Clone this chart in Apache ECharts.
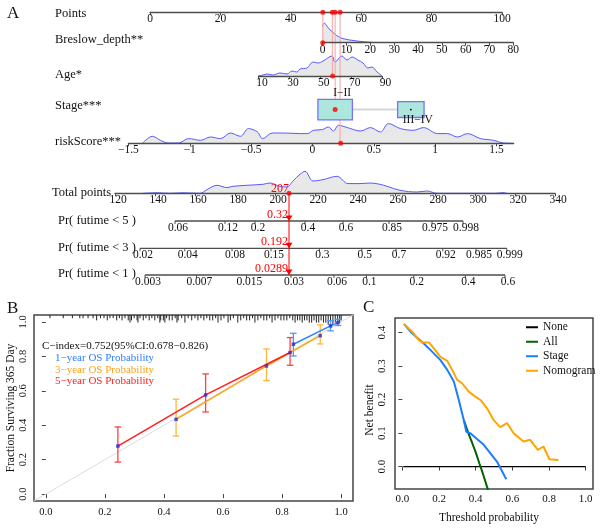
<!DOCTYPE html>
<html><head><meta charset="utf-8">
<script src="https://cdn.jsdelivr.net/npm/echarts@6/dist/echarts.min.js"></script>
<style>html,body{margin:0;padding:0;background:#fff}#c{width:600px;height:530px}</style>
</head><body><div id="c"></div>
<script>
// ================= DATA =================
// Nomogram tick labels
const pointsTicks = [0, 20, 40, 60, 80, 100];
const breslowTicks = [0, 10, 20, 30, 40, 50, 60, 70, 80];
const ageTicks = [10, 30, 50, 70, 90];
const riskTicks = [-1.5, -1, -0.5, 0, 0.5, 1, 1.5];
const totalTicks = [120, 140, 160, 180, 200, 220, 240, 260, 280, 300, 320, 340];

// Stage categories (position on Points scale, relative frequency)
const stageCats = ['I\u2212II', 'III\u2212IV'];
const stagePoints = [52.6, 74.1];
const stageFreq = [0.63, 0.37];

// Density curves [value, density]
const breslowDensity = [[-2.6,0],[-1.5,8.7],[-0.5,15],[0,18],[0.8,19.5],[1.5,17.5],[2.2,15.3],[3.2,12.5],[4.3,10.3],[5.7,7.5],[7.2,5.3],[9,3.8],[11.4,2.7],[13.5,2],[15.6,1.3],[18,0.8],[21,0.3],[22,0]];
const ageDensity = [[9.7,0],[12.9,1],[15.5,2],[19.4,1],[23.9,3],[28.5,2],[31.7,5],[34.9,4],[36.9,7],[41.4,8],[45.3,14],[48.5,13],[51.8,15],[57.6,20],[59.5,14],[64.1,20],[67.3,16],[70.6,19],[74.4,16],[77.7,13],[80.9,8],[83.5,9],[86.8,4],[90,0]];
const riskDensity = [[-1.385,0],[-1.304,7],[-1.239,3],[-1.174,0.3],[-1.092,0.3],[-1.01,4.7],[-0.913,3],[-0.831,6.3],[-0.75,4.7],[-0.668,10.3],[-0.587,7],[-0.522,14.7],[-0.448,11.3],[-0.407,4.7],[-0.326,10.3],[-0.236,10.3],[-0.098,9.7],[-0.041,9.7],[0.008,13],[0.081,13.7],[0.13,16.3],[0.171,12.3],[0.212,18],[0.285,15.7],[0.391,12.3],[0.473,15.7],[0.554,11.3],[0.619,19.7],[0.717,14.7],[0.823,13],[0.905,15.7],[1.019,9.7],[1.1,9.7],[1.182,6.3],[1.263,9.7],[1.369,4.7],[1.475,3],[1.557,0.3],[1.63,0]];
const totalDensity = [[134,0],[141,0.5],[147.5,0],[154,0.5],[162.5,0],[166,3.7],[171,8],[176,5.7],[179,7],[186,8],[194,9],[197.5,10.3],[202.5,7],[206,6.3],[209,12.3],[212.5,19],[215,22],[219,12.3],[224,13.7],[231,17],[236.5,9.7],[242.5,9.7],[247.5,10.3],[252.5,9],[256,7],[262.5,3],[271,1.3],[276,2.3],[281,0],[287.5,0],[310,0],[314,0.6],[316,0]];

// Patient being scored
const patientBreslow = 0;
const patientAge = 58;
const patientStage = 0;
const patientRisk = 0.23;
const patientPoints = [49.1, 51.8, 52.6, 54.0]; // Breslow, Age, Stage, riskScore
const patientTotal = 207;
const patientPredLabels = ['0.32', '0.192', '0.0289'];

// Probability axes: tick labels and the total points they sit at
const pr5Labels = ['0.06','0.12','0.2','0.4','0.6','0.85','0.975','0.998'];
const pr5Pos = [150, 175, 190, 215, 234, 257, 278.5, 294];
const pr3Labels = ['0.02','0.04','0.08','0.15','0.3','0.5','0.7','0.92','0.985','0.999'];
const pr3Pos = [132.5, 154.9, 178.5, 198, 222.2, 243.4, 260.5, 283.9, 300.5, 315.9];
const pr1Labels = ['0.003','0.007','0.015','0.03','0.06','0.1','0.2','0.4','0.6'];
const pr1Pos = [135, 160.7, 185.7, 208, 229.5, 245.7, 269.4, 295.2, 315];

// Calibration (panel B)
const calTicks = [0, 0.2, 0.4, 0.6, 0.8, 1.0];
const calRef = [[-0.04,-0.04],[1.04,1.04]];
const cal1x = [0.838, 0.964, 0.989], cal1y = [0.870, 0.977, 0.996], cal1lo = [0.802, 0.948, 0.979], cal1hi = [0.934, 1.007, 1.015];
const cal3x = [0.441, 0.747, 0.929], cal3y = [0.434, 0.744, 0.920], cal3lo = [0.337, 0.659, 0.872], cal3hi = [0.551, 0.843, 0.983];
const cal5x = [0.244, 0.541, 0.827], cal5y = [0.279, 0.576, 0.822], cal5lo = [0.186, 0.477, 0.748], cal5hi = [0.390, 0.698, 0.909];
const rugX = [0.014,0.059,0.09,0.115,0.126,0.143,0.16,0.172,0.185,0.197,0.208,0.217,0.228,0.24,0.249,0.258,0.268,0.279,0.285,0.29,0.299,0.309,0.312,0.319,0.33,0.339,0.35,0.359,0.369,0.379,0.386,0.389,0.398,0.403,0.409,0.418,0.428,0.438,0.444,0.448,0.46,0.471,0.482,0.494,0.505,0.515,0.525,0.535,0.545,0.555,0.565,0.575,0.583,0.593,0.603,0.617,0.625,0.635,0.65,0.66,0.67,0.68,0.69,0.7,0.708,0.718,0.728,0.738,0.748,0.758,0.766,0.776,0.786,0.796,0.806,0.816,0.826,0.836,0.844,0.852,0.86,0.868,0.876,0.884,0.892,0.9,0.908,0.916,0.924,0.932,0.94,0.948,0.956,0.964,0.972,0.98,0.988,0.995,1.0];
const rugN = [1,1,1,1,1,1,1,2,1,1,2,1,1,2,1,2,1,2,3,2,1,2,3,1,2,1,2,1,2,1,3,2,2,3,1,2,2,1,3,2,1,3,1,2,1,2,1,2,1,2,2,1,3,2,1,3,2,1,3,2,1,2,2,1,3,2,1,2,2,1,3,2,1,2,2,2,1,2,3,2,2,3,2,2,3,3,2,3,3,2,3,3,4,3,4,3,4,3,2];

// Decision curves (panel C)
const dcaXTicks = [0, 0.2, 0.4, 0.6, 0.8, 1.0];
const dcaYTicks = [0, 0.1, 0.2, 0.3, 0.4];
const dcaNone = [[0.005,0],[1.0,0]];
const dcaAll = [[0.335,0.14],[0.36,0.10],[0.38,0.072],[0.40,0.043],[0.42,0.01],[0.44,-0.022],[0.46,-0.057],[0.475,-0.083]];
const dcaStage = [[0.009,0.426],[0.045,0.403],[0.081,0.385],[0.117,0.368],[0.154,0.348],[0.208,0.318],[0.245,0.289],[0.281,0.254],[0.308,0.199],[0.335,0.139],[0.349,0.104],[0.371,0.0996],[0.444,0.065],[0.516,0.015],[0.567,-0.038]];
const dcaNomogram = [[0.009,0.426],[0.054,0.403],[0.09,0.378],[0.109,0.371],[0.145,0.371],[0.172,0.353],[0.208,0.328],[0.245,0.316],[0.272,0.289],[0.299,0.259],[0.326,0.249],[0.362,0.224],[0.398,0.209],[0.426,0.199],[0.462,0.174],[0.498,0.139],[0.534,0.118],[0.571,0.130],[0.607,0.0996],[0.661,0.075],[0.697,0.080],[0.739,0.050],[0.770,0.060],[0.802,0.022],[0.851,0.020]];

// ================= LAYOUT / STYLE =================
const FONT = 'Liberation Serif';
const AX = '#4d4d4d';
const TXT = '#111';
const ROW = {points:12.3, breslow:42.7, age:76, stage:109.6, risk:143.3, total:193.3, pr5:221, pr3:248.3, pr1:275};
const DH = 26;

const grids = [], xAxis = [], yAxis = [], series = [], graphic = [];
function addGrid(g, xa, ya) {
  grids.push(Object.assign({outerBoundsMode:'none', containLabel:false}, g));
  const i = grids.length - 1;
  xAxis.push(Object.assign({gridIndex:i, type:'value', splitLine:{show:false}}, xa));
  yAxis.push(Object.assign({gridIndex:i, type:'value', splitLine:{show:false}}, ya));
  return i;
}
function nomoX(min, max, ticks, shift) {
  return {min, max, position:'bottom', z:5,
    axisLine:{show:true, onZero:false, lineStyle:{color:AX, width:1.3}},
    axisTick:{show:true, length:3, lineStyle:{color:AX, width:1}, customValues:ticks},
    axisLabel:{show:true, customValues:ticks, margin:1, fontFamily:FONT, fontSize:11.5, color:TXT, hideOverlap:false,
      padding:[0,0,0,shift*2], formatter:v => String(v).replace('-', '\u2212')}};
}
const hid = (min, max, extra) => Object.assign({min, max, show:false}, extra || {});

// ---------- Panel A grids ----------
const gPts  = addGrid({left:150, width:352, top:ROW.points-10, height:10}, nomoX(0,100,pointsTicks,0), hid(0,10));
const gBres = addGrid({left:322.7, width:190.6, top:ROW.breslow-DH, height:DH}, nomoX(0,80,breslowTicks,0), hid(0,DH));
const gAge  = addGrid({left:258.5, width:123.5, top:ROW.age-DH, height:DH}, nomoX(10,90,ageTicks,3.5), hid(0,DH));
const gRisk = addGrid({left:128.4, width:385.3, top:ROW.risk-DH, height:DH}, nomoX(-1.5,1.64,riskTicks,0), hid(0,DH));
const gTot  = addGrid({left:115, width:440, top:ROW.total-DH, height:DH}, nomoX(120,340,totalTicks,3), hid(0,DH));
const gA    = addGrid({left:150, width:352, top:0, height:530}, hid(0,100), hid(0,530,{inverse:true}));
const gT    = addGrid({left:115, width:440, top:0, height:530}, hid(120,340), hid(0,530,{inverse:true}));

function dens(g, data) {
  series.push({type:'line', xAxisIndex:g, yAxisIndex:g, data, smooth:0.35, showSymbol:false, clip:false, silent:true,
    lineStyle:{color:'#5a5aff', width:1}, areaStyle:{color:'#e8e8e8', opacity:1}, z:1});
}
function dots(g, data, size, color) {
  series.push({type:'scatter', xAxisIndex:g, yAxisIndex:g, data, symbolSize:size, itemStyle:{color}, clip:false, silent:true, z:10});
}
dens(gBres, breslowDensity);
dens(gAge, ageDensity);
dens(gRisk, riskDensity);
dens(gTot, totalDensity);

// pink guide lines from Points axis to each variable
const varRows = [ROW.breslow, ROW.age, ROW.stage, ROW.risk];
series.push({type:'custom', xAxisIndex:gA, yAxisIndex:gA, silent:true, z:2,
  data: patientPoints.map((p, i) => [p, ROW.points, varRows[i]]),
  renderItem: (pr, api) => {
    const a = api.coord([api.value(0), api.value(1)]), b = api.coord([api.value(0), api.value(2)]);
    return {type:'line', shape:{x1:a[0], y1:a[1], x2:b[0], y2:b[1]}, style:{stroke:'#f6a3a3', lineWidth:1}};
  }});

// Stage boxes
series.push({type:'line', xAxisIndex:gA, yAxisIndex:gA, data: stagePoints.map(p => [p, ROW.stage]),
  showSymbol:false, silent:true, lineStyle:{color:'#d6d6d6', width:2}, z:3});
series.push({type:'custom', xAxisIndex:gA, yAxisIndex:gA, silent:true, z:4,
  data: stagePoints.map((p, i) => [p, ROW.stage, stageFreq[i], i]),
  renderItem: (pr, api) => {
    const c = api.coord([api.value(0), api.value(1)]);
    const f = api.value(2), i = api.value(3);
    const w = Math.sqrt(f) * 43.5, h = Math.sqrt(f) * 26;
    const ly = i === 0 ? c[1] - h / 2 - 6 : c[1] + h / 2 + 2;
    return {type:'group', children:[
      {type:'rect', shape:{x:c[0]-w/2, y:c[1]-h/2, width:w, height:h}, style:{fill:'#ade6dc', stroke:'#7373ff', lineWidth:1.3}},
      {type:'circle', shape:{cx:c[0], cy:c[1], r:i===0?0:0.9}, style:{fill:'#000'}},
      {type:'text', style:{text:stageCats[i], x:c[0]+7, y:ly, align:'center', verticalAlign:'middle', fontFamily:FONT, fontSize:11.5, fill:TXT}}
    ]};
  }});

// red patient dots
dots(gPts, patientPoints.map(p => [p, 0]), 5, '#ff0000');
dots(gBres, [[patientBreslow, 0]], 5, '#ff0000');
dots(gAge, [[patientAge, 0]], 5, '#ff0000');
dots(gRisk, [[patientRisk, 0]], 5, '#ff0000');
dots(gA, [[stagePoints[patientStage], ROW.stage]], 5, '#ff0000');
dots(gTot, [[patientTotal, 0]], 5, '#ff0000');

// probability axes
function prAxis(labels, pos, rowY) {
  series.push({type:'line', xAxisIndex:gT, yAxisIndex:gT, data:[[pos[0], rowY], [pos[pos.length-1], rowY]],
    showSymbol:false, silent:true, lineStyle:{color:AX, width:1.3}, z:3});
  series.push({type:'custom', xAxisIndex:gT, yAxisIndex:gT, silent:true, z:3,
    data: pos.map((p, i) => [p, rowY, i]),
    renderItem: (pr, api) => {
      const c = api.coord([api.value(0), api.value(1)]);
      return {type:'group', children:[
        {type:'line', shape:{x1:c[0], y1:c[1], x2:c[0], y2:c[1]+3}, style:{stroke:AX, lineWidth:1}},
        {type:'text', style:{text:labels[api.value(2)], x:c[0]+3, y:c[1]+1, align:'center', verticalAlign:'top', fontFamily:FONT, fontSize:11.5, fill:TXT}}
      ]};
    }});
}
prAxis(pr5Labels, pr5Pos, ROW.pr5);
prAxis(pr3Labels, pr3Pos, ROW.pr3);
prAxis(pr1Labels, pr1Pos, ROW.pr1);

// red prediction line
const prRows = [ROW.pr5, ROW.pr3, ROW.pr1];
series.push({type:'custom', xAxisIndex:gT, yAxisIndex:gT, silent:true, z:8,
  data: [[patientTotal, ROW.total]],
  renderItem: (pr, api) => {
    const c = api.coord([api.value(0), api.value(1)]);
    const x = c[0];
    const ch = [
      {type:'line', shape:{x1:x, y1:c[1], x2:x, y2:prRows[2]}, style:{stroke:'#ff0000', lineWidth:1}},
      {type:'text', style:{text:String(patientTotal), x:x, y:c[1]-4, align:'right', verticalAlign:'middle', fontFamily:FONT, fontSize:12, fill:'#ff0000'}}
    ];
    prRows.forEach((r, k) => {
      ch.push({type:'polygon', shape:{points:[[x-3.5, r-5.5], [x+3.5, r-5.5], [x, r]]}, style:{fill:'#ff0000'}});
      ch.push({type:'text', style:{text:patientPredLabels[k], x:x-1, y:r-6.5, align:'right', verticalAlign:'middle', fontFamily:FONT, fontSize:12, fill:'#ff0000'}});
    });
    return {type:'group', children:ch};
  }});

// ---------- Panel B ----------
const frameB = {show:true, borderColor:'#454545', borderWidth:1.5, backgroundColor:'rgba(0,0,0,0)'};
const gB = addGrid(Object.assign({left:34, top:315, width:319, height:186}, frameB),
  {min:-0.04, max:1.04, axisLine:{show:false},
   axisTick:{show:true, length:4, customValues:calTicks, lineStyle:{color:'#454545'}},
   axisLabel:{customValues:calTicks, formatter:v => v.toFixed(1), margin:6, fontFamily:FONT, fontSize:10.5, color:TXT, hideOverlap:false}},
  {min:-0.04, max:1.04, axisLine:{show:false},
   axisTick:{show:true, length:4, customValues:calTicks, lineStyle:{color:'#454545'}},
   axisLabel:{customValues:calTicks, formatter:v => v.toFixed(1), rotate:90, margin:5, fontFamily:FONT, fontSize:10.5, color:TXT, hideOverlap:false}});

series.push({type:'line', xAxisIndex:gB, yAxisIndex:gB, data:calRef, showSymbol:false, silent:true, lineStyle:{color:'#dcdcdc', width:1}, z:1});
series.push({type:'custom', xAxisIndex:gB, yAxisIndex:gB, silent:true, z:2,
  data: rugX.map((x, i) => [x, rugN[i]]),
  renderItem: (pr, api) => {
    const c = api.coord([api.value(0), 1.04]);
    return {type:'line', shape:{x1:c[0], y1:c[1], x2:c[0], y2:c[1] + 1 + api.value(1) * 2.2}, style:{stroke:'#222', lineWidth:1}};
  }});
function calSeries(xs, ys, lo, hi, lineColor, barColor) {
  series.push({type:'line', xAxisIndex:gB, yAxisIndex:gB, data: xs.map((x, i) => [x, ys[i]]), showSymbol:false, silent:true,
    lineStyle:{color:lineColor, width:1.5}, z:4});
  series.push({type:'custom', xAxisIndex:gB, yAxisIndex:gB, silent:true, z:3,
    data: xs.map((x, i) => [x, lo[i], hi[i]]),
    renderItem: (pr, api) => {
      const a = api.coord([api.value(0), api.value(1)]), b = api.coord([api.value(0), api.value(2)]);
      const w = 3.3, st = {stroke:barColor, lineWidth:1.3};
      return {type:'group', children:[
        {type:'line', shape:{x1:a[0], y1:a[1], x2:b[0], y2:b[1]}, style:st},
        {type:'line', shape:{x1:a[0]-w, y1:a[1], x2:a[0]+w, y2:a[1]}, style:st},
        {type:'line', shape:{x1:b[0]-w, y1:b[1], x2:b[0]+w, y2:b[1]}, style:st}
      ]};
    }});
  series.push({type:'scatter', xAxisIndex:gB, yAxisIndex:gB, data: xs.map((x, i) => [x, ys[i]]), symbol:'rect', symbolSize:3.5,
    itemStyle:{color:'#2b2bd6'}, silent:true, z:6});
}
calSeries(cal3x, cal3y, cal3lo, cal3hi, '#ffa31a', '#ffb640');
calSeries(cal5x, cal5y, cal5lo, cal5hi, '#ff1f1f', '#ff4040');
calSeries(cal1x, cal1y, cal1lo, cal1hi, '#2f86ff', '#4d99ff');

// ---------- Panel C ----------
const gC = addGrid(Object.assign({left:395, top:318, width:198, height:171}, frameB),
  {min:-0.04, max:1.04, axisLine:{show:false},
   axisTick:{show:true, length:4, customValues:dcaXTicks, lineStyle:{color:'#454545'}},
   axisLabel:{customValues:dcaXTicks, formatter:v => v.toFixed(1), margin:5, fontFamily:FONT, fontSize:11, color:TXT, hideOverlap:false}},
  {min:-0.067, max:0.444, axisLine:{show:false},
   axisTick:{show:true, length:4, customValues:dcaYTicks, lineStyle:{color:'#454545'}},
   axisLabel:{customValues:dcaYTicks, formatter:v => v.toFixed(1), rotate:90, margin:7, fontFamily:FONT, fontSize:11, color:TXT, hideOverlap:false}});
function dca(name, data, color, width) {
  series.push({name, type:'line', xAxisIndex:gC, yAxisIndex:gC, data, showSymbol:false, silent:true, lineStyle:{color, width}, itemStyle:{color}, z:4});
}
dca('None', dcaNone, '#000000', 1.2);
dca('All', dcaAll, '#006400', 2);
dca('Stage', dcaStage, '#1e7cff', 2);
dca('Nomogram', dcaNomogram, '#ffa500', 2);

// ---------- Texts ----------
function txt(text, x, y, o) {
  graphic.push({type:'text', x, y, rotation:(o && o.rot) || 0, silent:true,
    style:Object.assign({text, fontFamily:FONT, fontSize:12.5, fill:TXT, align:'left', verticalAlign:'middle'}, o || {})});
}
txt('A', 7, 13.5, {fontSize:17});
txt('B', 7, 308.5, {fontSize:17});
txt('C', 363, 308, {fontSize:17});
txt('Points', 55, 14);
txt('Breslow_depth**', 55, 39.5);
txt('Age*', 55, 74.5);
txt('Stage***', 55, 106);
txt('riskScore***', 55, 142);
txt('Total points', 52, 193);
txt('Pr( futime < 5 )', 58, 221);
txt('Pr( futime < 3 )', 58, 247.5);
txt('Pr( futime < 1 )', 58, 274);
txt('C\u2212index=0.752(95%CI:0.678\u22120.826)', 42, 346, {fontSize:11});
txt('1\u2212year OS Probability', 55, 358.5, {fontSize:11, fill:'#2f7dff'});
txt('3\u2212year OS Probability', 55, 370, {fontSize:11, fill:'#ffa31a'});
txt('5\u2212year OS Probability', 55, 381.5, {fontSize:11, fill:'#ff2020'});
txt('Fraction Surviving 365 Day', 11, 408, {fontSize:11.5, align:'center', rot:Math.PI/2});
txt('Net benefit', 370, 410, {fontSize:11.5, align:'center', rot:Math.PI/2});
txt('Threshold probability', 489, 518, {fontSize:11.5, align:'center'});

const chart = echarts.init(document.getElementById('c'), null, {renderer:'canvas'});
chart.setOption({
  animation:false,
  backgroundColor:'#ffffff',
  grid:grids, xAxis, yAxis, series, graphic,
  legend:{data:['None','All','Stage','Nomogram'], orient:'vertical', left:521, top:316, itemWidth:12, itemHeight:2,
    itemGap:2, icon:'rect', selectedMode:false, textStyle:{fontFamily:FONT, fontSize:11.5, color:TXT, lineHeight:12.5}}
});
</script></body></html>
